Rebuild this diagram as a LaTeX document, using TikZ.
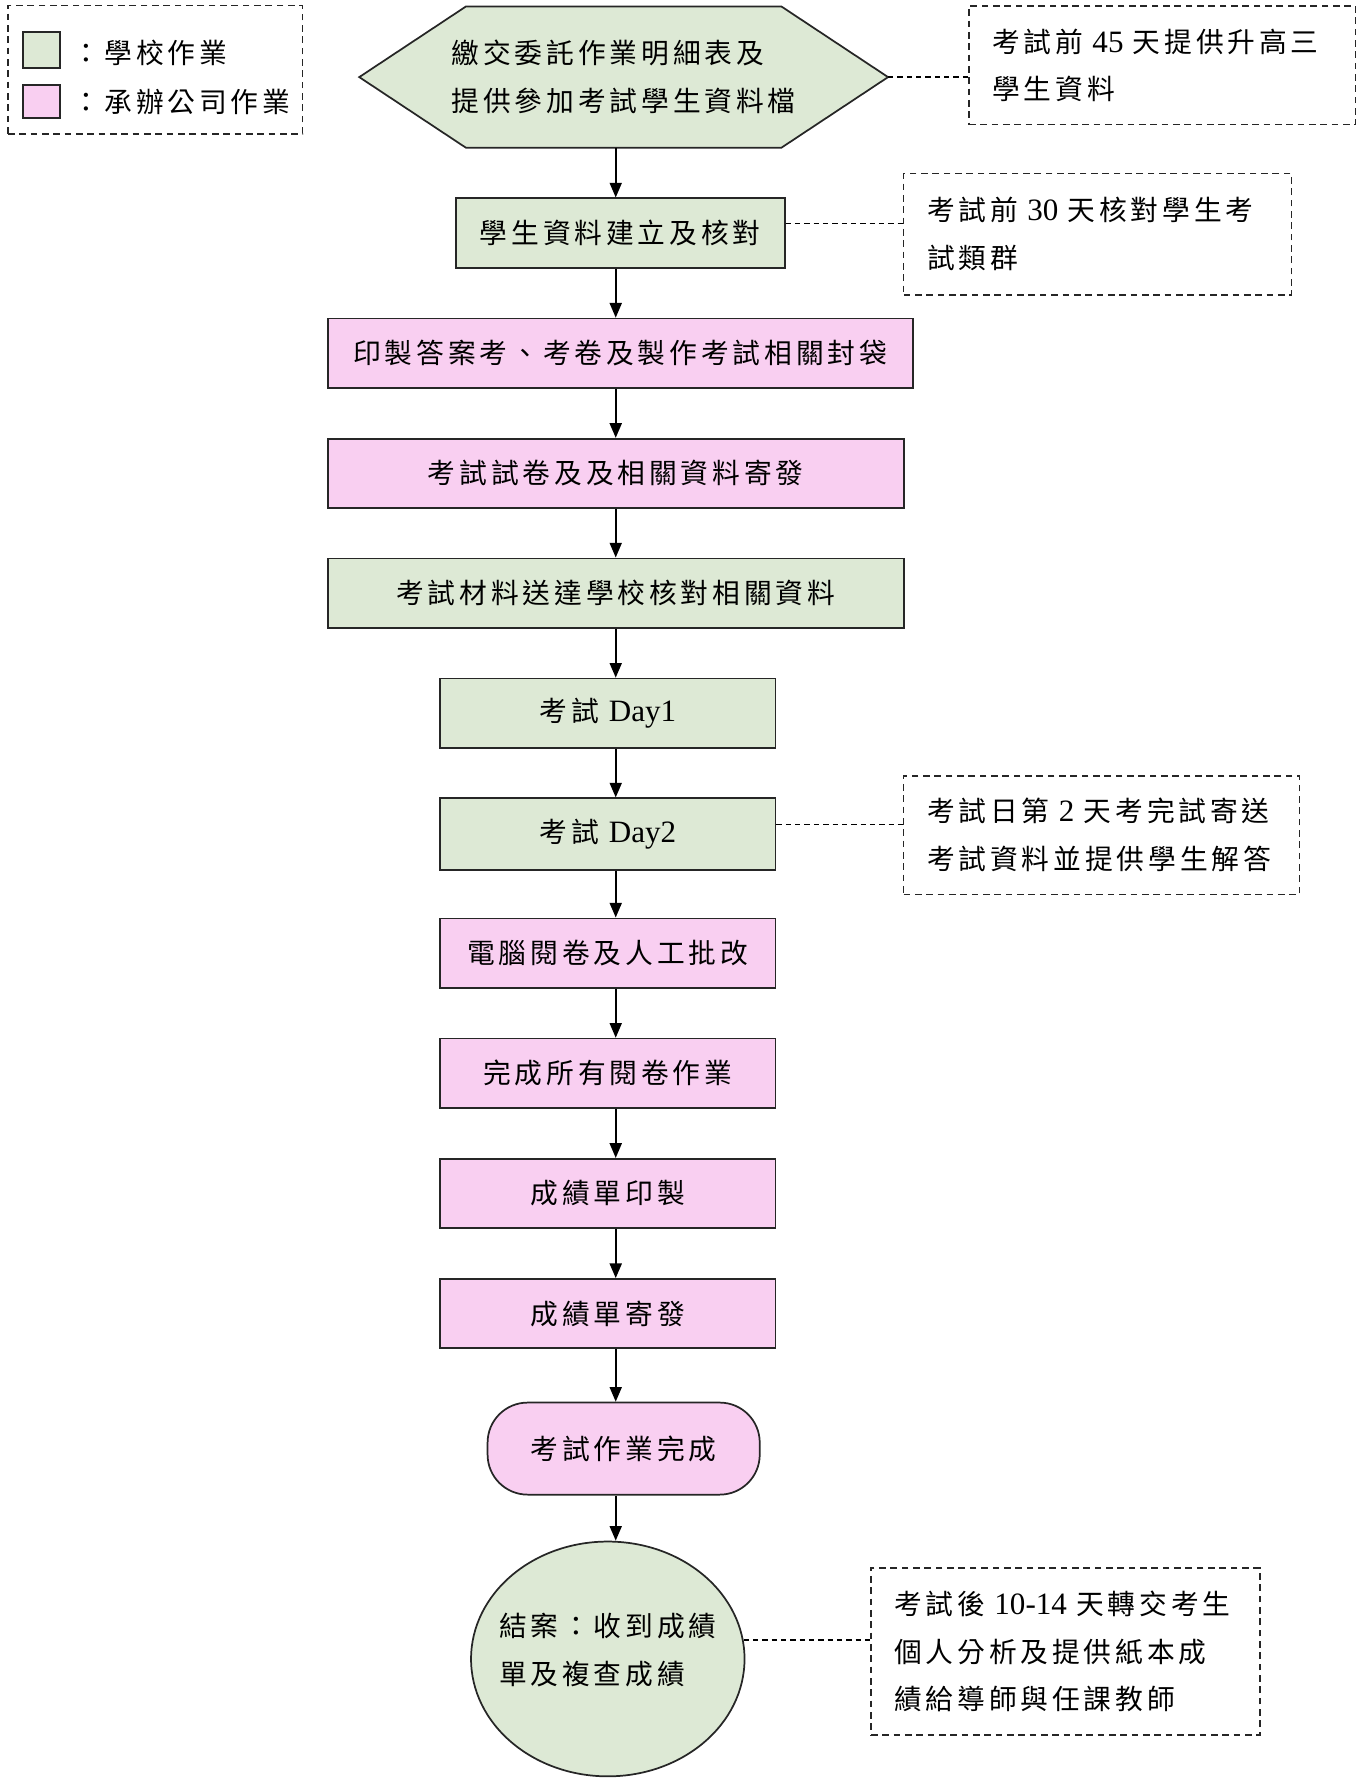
\documentclass[tikz,border=0pt]{standalone}
\usepackage{fontspec}
\setmainfont{Noto Sans CJK TC}[LetterSpace=14]
\newfontfamily\eng{Liberation Serif}[Scale=1.12]
\usetikzlibrary{arrows.meta,shapes.geometric,calc,backgrounds}
\definecolor{schoolgreen}{RGB}{221,233,213}
\definecolor{firmpink}{RGB}{249,207,241}
\tikzset{
  task/.style={draw=black!85, line width=1.3pt, minimum height=52pt, inner sep=0pt},
  school/.style={task, fill=schoolgreen},
  firm/.style={task, fill=firmpink},
  memo/.style={draw=black!85, line width=1.1pt, dash pattern=on 5pt off 3.5pt,
    align=left, inner xsep=17.5pt, inner ysep=0pt},
  flow/.style={line width=1.4pt, -{Triangle[length=11pt,width=9pt]}},
  link/.style={line width=1.1pt, dash pattern=on 4pt off 3pt},
}
\begin{document}
\begin{tikzpicture}[x=0.85pt, y=-0.85pt, font=\fontsize{20.8pt}{35.7pt}\selectfont]
  \useasboundingbox (0,0) rectangle (1204,1568);
  \coordinate (spine) at (543,0);

  \node[draw=black!85, line width=1.1pt, dash pattern=on 5pt off 3.5pt,
    minimum width=221pt, minimum height=96pt] (legend) at (137,61.5) {};
  \node[school, minimum width=28pt, minimum height=27pt] (legschool) at (36.5,44) {};
  \node[firm, minimum width=28pt, minimum height=25pt] (legfirm) at (36.5,89.5) {};
  \node[anchor=west, inner sep=0pt] (legschooltext) at (64,47) {：學校作業};
  \node[anchor=west, inner sep=0pt] (legfirmtext) at (64,90) {：承辦公司作業};

  \node[align=left, minimum width=396pt, minimum height=105.4pt, inner sep=0pt] (submit) at (550,68)
    {繳交委託作業明細表及\\提供參加考試學生資料檔};
  \begin{pgfonlayer}{background}
    \filldraw[draw=black!85, line width=1.3pt, fill=schoolgreen] (submit.west)
      -- ($(submit.north west)+(94,0)$) -- ($(submit.north east)+(-94,0)$)
      -- (submit.east)
      -- ($(submit.south east)+(-94,0)$) -- ($(submit.south west)+(94,0)$) -- cycle;
  \end{pgfonlayer}

  \node[school, minimum width=246.5pt] (check) at (547,205.5) {學生資料建立及核對};
  \node[firm, minimum width=438.6pt] (print) at (547,311.5) {印製答案考、考卷及製作考試相關封袋};
  \node[firm, minimum width=431.8pt] (mail) at (543,417.5) {考試試卷及及相關資料寄發};
  \node[school, minimum width=431.8pt] (arrive) at (543,523) {考試材料送達學校核對相關資料};
  \node[school, minimum width=251.6pt] (dayone) at (536,629) {考試~{\eng Day1}};
  \node[school, minimum width=251.6pt, minimum height=53.5pt] (daytwo) at (536,735.5) {考試~{\eng Day2}};
  \node[firm, minimum width=251.6pt] (scan) at (536,840.5) {電腦閱卷及人工批改};
  \node[firm, minimum width=251.6pt] (grading) at (536,946.5) {完成所有閱卷作業};
  \node[firm, minimum width=251.6pt] (reportprint) at (536,1052.5) {成績單印製};
  \node[firm, minimum width=251.6pt] (reportmail) at (536,1158.5) {成績單寄發};
  \node[firm, minimum width=204pt, minimum height=69pt, rounded corners=30pt] (done) at (550,1277.5) {考試作業完成};
  \node[school, ellipse, minimum width=205pt, minimum height=176pt] (closing) at (536,1463) {};
  \node[align=left, inner sep=0pt] (closingtext) at (536,1455) {結案：收到成績\\單及複查成績};

  \node[memo, text width=255pt, minimum height=89pt] (memoA) at (1025,57.5)
    {考試前~{\eng 45}~天提供升高三\\學生資料};
  \node[memo, text width=255.7pt, minimum height=91pt] (memoB) at (968,206.5)
    {考試前~{\eng 30}~天核對學生考\\試類群};
  \node[memo, text width=261.7pt, minimum height=89pt] (memoC) at (971.5,736.5)
    {考試日第~{\eng 2}~天考完試寄送\\考試資料並提供學生解答};
  \node[memo, text width=256.6pt, minimum height=125pt] (memoD) at (939.5,1456.5)
    {考試後~{\eng 10-14}~天轉交考生\\個人分析及提供紙本成\\績給導師與任課教師};

  \foreach \a/\b in {submit/check, check/print, print/mail, mail/arrive, arrive/dayone,
      dayone/daytwo, daytwo/scan, scan/grading, grading/reportprint,
      reportprint/reportmail, reportmail/done, done/closing}
    \draw[flow] (\a.south -| spine) -- (\b.north -| spine);

  \draw[link] (submit.east) -- (submit.east -| memoA.west);
  \draw[link] ([yshift=7pt]check.east) -- ([yshift=7pt]check.east -| memoB.west);
  \draw[link] ([yshift=7pt]daytwo.east) -- ([yshift=7pt]daytwo.east -| memoC.west);
  \draw[link] (closing.8) -- (closing.8 -| memoD.west);
\end{tikzpicture}
\end{document}
